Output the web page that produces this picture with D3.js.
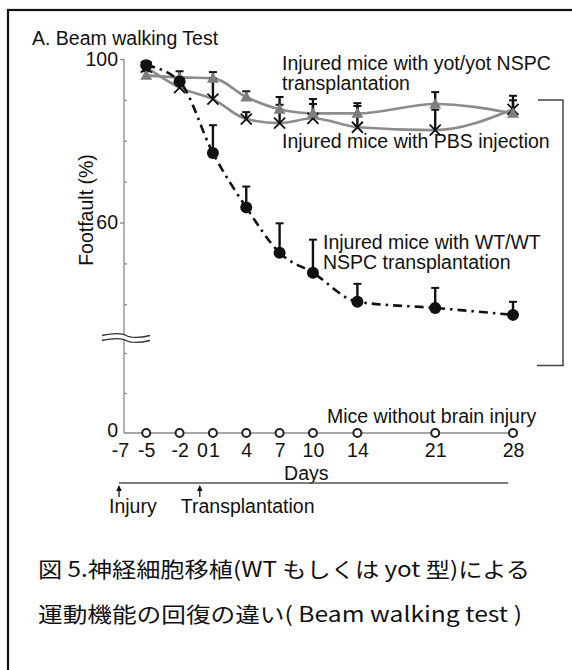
<!DOCTYPE html>
<html><head><meta charset="utf-8">
<script src="https://cdn.jsdelivr.net/npm/d3@7"></script>
<style>
html,body{margin:0;padding:0;background:#fff;}
svg{display:block;}
text{font-family:"Liberation Sans",Arial,sans-serif;fill:#111;}
.cap{font-family:"Noto Sans CJK JP",sans-serif;}
</style></head>
<body><svg id="c" width="572" height="670"></svg>
<script>
// ---- data ----
const days = [-5, -2, 1, 4, 7, 10, 14, 21, 28];
const yotValues = [96, 95.5, 95.3, 90.7, 87.7, 86.7, 86.7, 89, 86.7];
const yotErr    = [1, 1.5, 1.5, 1.4, 3, 3.5, 2.5, 2.9, 3.2];
const pbsValues = [98, 93, 90.2, 85.3, 84.3, 85.5, 83.3, 82.6, 87.7];
const pbsErr    = [0.5, 1, 5, 1.7, 4.5, 3.5, 5.2, 5, 3.3];
const wtValues  = [98.5, 94.5, 77, 63.7, 52.6, 47.7, 40.6, 39.1, 37.4];
const wtErr     = [1, 0, 6.8, 5.1, 7.2, 8.1, 4.4, 4.9, 3.2];
const noInjuryValues = [0, 0, 0, 0, 0, 0, 0, 0, 0];
const xTickDays = [-7, -5, -2, 0, 1, 4, 7, 10, 14, 21, 28];
const xTickLabels = ["-7", "-5", "-2", "0", "1", "4", "7", "10", "14", "21", "28"];
const yMajorTicks = [100, 60];
const yMinorUpper = [90, 80, 70, 50, 40];
const yMinorLower = [10, 20];
const yZeroTick = [0];
const events = [{day: -7, label: "Injury"}, {day: 0, label: "Transplantation"}];

const svg = d3.select("#c");
const x = d3.scaleLinear().domain([-7, 28]).range([124, 513]);
const yUp = d3.scaleLinear().domain([60, 100]).range([222.5, 59]);
const yLo = d3.scaleLinear().domain([0, 20]).range([433, 353]);
const y = v => v >= 25 ? yUp(v) : yLo(v);
const FS = 19.5;

// frame
svg.append("rect").attr("x", 8).attr("y", 10).attr("width", 600).attr("height", 700)
  .attr("fill", "none").attr("stroke", "#111").attr("stroke-width", 2.2);

// title
svg.append("text").attr("x", 32).attr("y", 45).attr("font-size", FS).text("A. Beam walking Test");

// y axis line
const axisCol = "#8a8a8a";
svg.append("line").attr("x1", x(-7)).attr("x2", x(-7)).attr("y1", yUp(100)).attr("y2", yLo(0))
  .attr("stroke", axisCol).attr("stroke-width", 1.3);

const gMaj = svg.append("g").attr("transform", `translate(${x(-7)},0)`)
  .call(d3.axisLeft(yUp).tickValues(yMajorTicks).tickSize(4).tickPadding(2));
const gZero = svg.append("g").attr("transform", `translate(${x(-7)},0)`)
  .call(d3.axisLeft(yLo).tickValues(yZeroTick).tickSize(0).tickPadding(6));
const gMinU = svg.append("g").attr("transform", `translate(${x(-7)},0)`)
  .call(d3.axisRight(yUp).tickValues(yMinorUpper).tickSize(3).tickFormat(""));
const gMinL = svg.append("g").attr("transform", `translate(${x(-7)},0)`)
  .call(d3.axisRight(yLo).tickValues(yMinorLower).tickSize(3).tickFormat(""));
[gMaj, gZero, gMinU, gMinL].forEach(g => {
  g.select(".domain").remove();
  g.selectAll("line").attr("stroke", axisCol).attr("stroke-width", 1.3);
  g.selectAll("text").attr("font-size", FS).attr("fill", "#111")
    .attr("font-family", '"Liberation Sans",Arial,sans-serif');
});
gZero.selectAll("text").attr("dy", "0.2em");

// y title
svg.append("text").attr("transform", `translate(93,210) rotate(-90)`)
  .attr("text-anchor", "middle").attr("font-size", FS).text("Footfault (%)");

// axis break
const bx0 = x(-7) - 22, bx1 = x(-7) + 26, by = 338;
const brk = o => `M${bx0},${by + o} C${bx0 + 12},${by + o - 2.5} ${bx0 + 20},${by + o - 2.5} ${(bx0 + bx1) / 2},${by + o} S${bx1 - 10},${by + o + 2.5} ${bx1},${by + o}`;
svg.append("path").attr("d", brk(0)).attr("fill", "none").attr("stroke", "#fff").attr("stroke-width", 5);
[-2.5, 2.5].forEach(o => {
  svg.append("path").attr("d", brk(o)).attr("fill", "none").attr("stroke", "#333").attr("stroke-width", 1.4);
});

// x axis
svg.append("line").attr("x1", x(-7)).attr("x2", x(28)).attr("y1", yLo(0)).attr("y2", yLo(0))
  .attr("stroke", axisCol).attr("stroke-width", 1.3);
const gx = svg.append("g").attr("transform", `translate(0,${yLo(0)})`)
  .call(d3.axisBottom(x).tickValues(xTickDays).tickFormat((d, i) => xTickLabels[i]).tickSize(0).tickPadding(10));
gx.select(".domain").remove();
gx.selectAll("text").attr("font-size", FS).attr("fill", "#111")
  .attr("font-family", '"Liberation Sans",Arial,sans-serif');
gx.selectAll("text").filter(d => d === -7).attr("dx", -4);
gx.selectAll("text").filter(d => d === 1).attr("dx", 1);

svg.append("text").attr("x", (x(7) + x(10)) / 2 + 10).attr("y", 480).attr("text-anchor", "middle")
  .attr("font-size", FS).text("Days");

// timeline
const tlY = 483;
svg.append("line").attr("x1", x(-7) - 5).attr("x2", x(28) - 5).attr("y1", tlY).attr("y2", tlY)
  .attr("stroke", "#555").attr("stroke-width", 1.4);
events.forEach((e, i) => {
  const ex = x(e.day) - (i === 0 ? 5 : 2);
  svg.append("line").attr("x1", ex).attr("x2", ex).attr("y1", tlY + 14).attr("y2", tlY + 5)
    .attr("stroke", "#111").attr("stroke-width", 1.3);
  svg.append("path").attr("d", `M${ex},${tlY + 2} L${ex - 2.8},${tlY + 8} L${ex + 2.8},${tlY + 8} Z`).attr("fill", "#111");
  svg.append("text").attr("x", ex - (i === 0 ? 10 : 19)).attr("y", 513).attr("font-size", FS).text(e.label);
});

// lines
const grey = "#8c8c8c";
const lineGen = d3.line().x((d, i) => x(days[i])).y(d => y(d)).curve(d3.curveMonotoneX);
svg.append("path").datum(yotValues).attr("d", lineGen).attr("fill", "none").attr("stroke", grey).attr("stroke-width", 2.6);
svg.append("path").datum(pbsValues).attr("d", lineGen).attr("fill", "none").attr("stroke", grey).attr("stroke-width", 2.6);
svg.append("path").datum(wtValues).attr("d", lineGen).attr("fill", "none").attr("stroke", "#111")
  .attr("stroke-width", 2.6).attr("stroke-dasharray", "9,5,2.5,5");

// error bars
function errBars(vals, errs) {
  vals.forEach((v, i) => {
    if (!errs[i]) return;
    const cx = x(days[i]), y0 = y(v), y1 = y(v + errs[i]);
    svg.append("line").attr("x1", cx).attr("x2", cx).attr("y1", y0).attr("y2", y1)
      .attr("stroke", "#111").attr("stroke-width", 2.4);
    svg.append("line").attr("x1", cx - 4).attr("x2", cx + 4).attr("y1", y1).attr("y2", y1)
      .attr("stroke", "#111").attr("stroke-width", 2);
  });
}
errBars(pbsValues, pbsErr);
errBars(yotValues, yotErr);
errBars(wtValues, wtErr);

// markers
pbsValues.forEach((v, i) => {
  const cx = x(days[i]), cy = y(v), s = 5.5;
  svg.append("path").attr("d", `M${cx - s},${cy - s}L${cx + s},${cy + s}M${cx - s},${cy + s}L${cx + s},${cy - s}`)
    .attr("stroke", "#111").attr("stroke-width", 1.8).attr("fill", "none");
});
yotValues.forEach((v, i) => {
  const cx = x(days[i]), cy = y(v);
  svg.append("path").attr("d", `M${cx},${cy - 6} L${cx - 6},${cy + 4.5} L${cx + 6},${cy + 4.5} Z`)
    .attr("fill", "#7d7d7d");
});
wtValues.forEach((v, i) => {
  svg.append("circle").attr("cx", x(days[i])).attr("cy", y(v)).attr("r", 6).attr("fill", "#111");
});
noInjuryValues.forEach((v, i) => {
  svg.append("circle").attr("cx", x(days[i])).attr("cy", y(v)).attr("r", 4).attr("fill", "#fff")
    .attr("stroke", "#222").attr("stroke-width", 2);
});

// annotations
function multi(xp, yp, lines) {
  lines.forEach((l, i) => svg.append("text").attr("x", xp).attr("y", yp + i * 20).attr("font-size", FS).text(l));
}
multi(282, 70, ["Injured mice with yot/yot NSPC", "transplantation"]);
multi(282, 148, ["Injured mice with PBS injection"]);
multi(323, 249, ["Injured mice with WT/WT", "NSPC transplantation"]);
multi(327, 423, ["Mice without brain injury"]);

// bracket
const bkX = x(28) + 50, bkTop = yUp(90), bkBot = yUp(25);
svg.append("path").attr("d", `M${x(28) + 25},${bkTop} H${bkX} V${bkBot} H${x(28) + 24}`)
  .attr("fill", "none").attr("stroke", "#444").attr("stroke-width", 1.5);

// caption
svg.append("text").attr("class", "cap").attr("x", 38).attr("y", 577).attr("font-size", 21)
  .attr("textLength", 492).attr("lengthAdjust", "spacingAndGlyphs")
  .text("図 5.神経細胞移植(WT もしくは yot 型)による");
svg.append("text").attr("class", "cap").attr("x", 38).attr("y", 622).attr("font-size", 21)
  .attr("textLength", 484).attr("lengthAdjust", "spacingAndGlyphs")
  .text("運動機能の回復の違い( Beam walking test )");
</script></body></html>
